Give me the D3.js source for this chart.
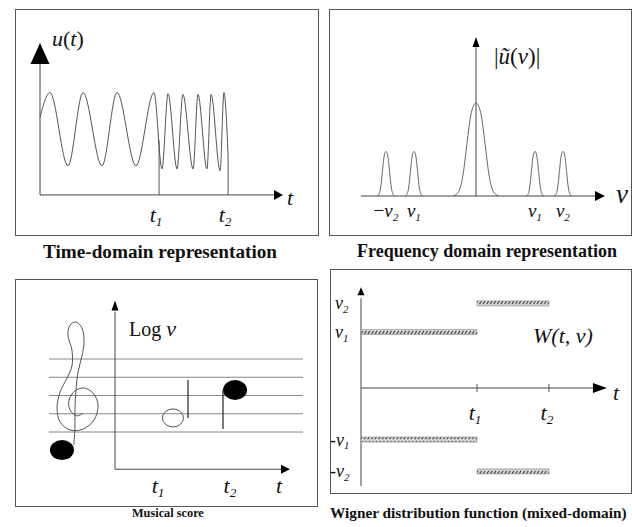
<!DOCTYPE html>
<html>
<head>
<meta charset="utf-8">
<script src="https://cdn.jsdelivr.net/npm/d3@7"></script>
<style>
  body { margin: 0; background: #fff; }
  svg { display: block; }
  text { font-family: "Liberation Serif", "Times New Roman", Times, serif; fill: #111; }
</style>
</head>
<body>
<svg id="chart" width="632" height="527"></svg>
<script>
// ---------- data ----------

// time-domain signal: extrema of u(t)
const signalT = [0, 0.41, 1.15, 1.77, 2.55, 3.17, 3.95, 4.69, 5.02, 5.27, 5.64, 5.88, 6.30, 6.50, 6.87, 7.04, 7.41, 7.57, 7.74];
const signalU = [0.33, 1, -0.97, 1, -0.97, 1, -0.97, 1, -1.05, 0.97, -1.05, 0.95, -1.05, 0.95, -1.05, 0.95, -1.1, 1, -0.68];
const timeMarks = [4.9, 7.74];
const timeMarkTop = [-0.28, -0.68];
const timeSubs = ["1", "2"];

// spectrum peaks
const peakCenters = [-0.9, -0.62, 0, 0.59, 0.87];
const peakHeights = [0.48, 0.48, 1, 0.48, 0.48];
const peakWidths = [0.09, 0.09, 0.23, 0.09, 0.09];
const peakProfile = [[-1, 0], [-0.75, 0.05], [-0.55, 0.25], [-0.4, 0.55], [-0.2, 0.9], [0, 1],
                     [0.2, 0.9], [0.4, 0.55], [0.55, 0.25], [0.75, 0.05], [1, 0]];
const freqLabelNu = [-0.9, -0.62, 0.59, 0.87];
const freqLabelPre = ["−", "", "", ""];
const freqLabelSub = ["2", "1", "1", "2"];

// musical score
const staffLines = [0, 1, 2, 3, 4];
const noteT = [3.31, 6.86];
const noteS = [0.77, 2.3];
const noteFilled = [false, true];
const stemT = [4.17, 6.17];
const stemEndS = [2.85, 0.16];
const clefT = [-1.83, -2.17, -2.57, -2.63, -2.29, -1.77, -1.26, -0.97, -1.2, -1.83, -2.57, -3.14, -3.31, -3.14,
               -2.74, -2.46, -2.46, -2.69, -2.57, -2.23, -1.89, -1.77, -1.89, -2.11, -2.23, -2.29, -2.29, -2.36];
const clefS = [1.04, 0.88, 1.21, 1.75, 2.25, 2.41, 2.14, 1.48, 0.66, 0.16, 0.11, 0.55, 1.32, 2.19,
               2.96, 3.62, 4.49, 5.32, 5.86, 6.03, 5.70, 4.93, 4.16, 3.29, 2.30, 1.21, 0.11, -0.71];
const clefDot = [-3.03, -0.99];
const scoreMarks = [2.46, 6.57];

// Wigner distribution bars
const wignerT0 = [0, 1, 0, 1];
const wignerT1 = [1, 1.62, 1, 1.62];
const wignerNu = [1, 1.51, -0.92, -1.49];
const wignerMarks = [1, 1.62];
const nuLabelPre = ["", "", "-", "-"];
const nuLabelSub = ["1", "2", "1", "2"];

// ---------- helpers ----------
const svg = d3.select("#chart");
svg.append("rect").attr("width", 632).attr("height", 527).attr("fill", "#fff");

const defs = svg.append("defs");
const hatch = defs.append("pattern")
    .attr("id", "hatch")
    .attr("patternUnits", "userSpaceOnUse")
    .attr("width", 3.6).attr("height", 5);
hatch.append("rect").attr("width", 3.6).attr("height", 5).attr("fill", "#ddd");
hatch.append("line")
    .attr("x1", 0.6).attr("y1", 4.2).attr("x2", 2.8).attr("y2", 0.8)
    .attr("stroke", "#222").attr("stroke-width", 1);

function frame(x, y, w, h) {
    svg.append("rect")
        .attr("x", x + 0.5).attr("y", y + 0.5)
        .attr("width", w).attr("height", h)
        .attr("fill", "none").attr("stroke", "#555").attr("stroke-width", 1);
}

function line(x1, y1, x2, y2, color = "#444", w = 1) {
    svg.append("line")
        .attr("x1", x1).attr("y1", y1).attr("x2", x2).attr("y2", y2)
        .attr("stroke", color).attr("stroke-width", w);
}

// arrowhead with its tip at (x, y)
function arrow(x, y, dir, len, half) {
    const pts = dir === "up"
        ? [[x, y], [x - half, y + len], [x + half, y + len]]
        : [[x, y], [x - len, y - half], [x - len, y + half]];
    svg.append("path").attr("d", "M" + pts.join("L") + "Z").attr("fill", "#000");
}

// italic symbol with an italic subscript
function symbol(x, y, pre, sym, sub, size, anchor = "middle") {
    const t = svg.append("text")
        .attr("x", x).attr("y", y)
        .attr("text-anchor", anchor)
        .attr("font-size", size);
    if (pre) t.append("tspan").text(pre);
    t.append("tspan").attr("font-style", "italic").text(sym);
    if (sub) t.append("tspan").attr("font-style", "italic")
        .attr("font-size", size * 0.6).attr("dy", size * 0.2).text(sub);
    return t;
}

function caption(x, y, str, size) {
    svg.append("text")
        .attr("x", x).attr("y", y)
        .attr("font-size", size).attr("font-weight", "bold")
        .text(str);
}

// ---------- panel 1: time domain ----------
frame(15, 9, 303, 226);
const x1 = d3.scaleLinear().domain([0, 10]).range([40, 283]);
const y1 = d3.scaleLinear().domain([-1, 1]).range([167, 92.5]);

line(x1(0), y1(-1.75), x1(0), y1(2.3));
arrow(x1(0), y1(2.33), "up", 21, 9.5);
line(x1(0), y1(-1.75), x1(9.7), y1(-1.75));
arrow(x1(10), y1(-1.75), "right", 9, 5);

svg.append("path")
    .datum(d3.zip(signalT, signalU))
    .attr("fill", "none").attr("stroke", "#555").attr("stroke-width", 1)
    .attr("d", d3.line().x(d => x1(d[0])).y(d => y1(d[1])).curve(d3.curveMonotoneX));

timeMarks.forEach((t, i) => {
    line(x1(t), y1(-1.75), x1(t), y1(timeMarkTop[i]), "#555");
    symbol(x1(t) - 3, 222, "", "t", timeSubs[i], 22);
});

const uLab = svg.append("text").attr("x", 52).attr("y", 46).attr("font-size", 22);
uLab.append("tspan").attr("font-style", "italic").text("u");
uLab.append("tspan").text("(");
uLab.append("tspan").attr("font-style", "italic").text("t");
uLab.append("tspan").text(")");
symbol(287, 205, "", "t", "", 22, "start");

caption(43, 258, "Time-domain representation", 19.2);

// ---------- panel 2: frequency domain ----------
frame(329, 9, 302, 226);
const x2 = d3.scaleLinear().domain([-1, 1]).range([376, 576]);
const y2 = d3.scaleLinear().domain([0, 1]).range([196, 103]);

line(x2(-1.15), y2(0), x2(1.19), y2(0));
arrow(x2(1.29), y2(0), "right", 10, 5);
line(x2(0), y2(0), x2(0), y2(1.6));
arrow(x2(0), y2(1.71), "up", 10, 3.5);

const peakLine = d3.line().x(d => x2(d[0])).y(d => y2(d[1])).curve(d3.curveMonotoneX);
peakCenters.forEach((c, i) => {
    svg.append("path")
        .datum(peakProfile.map(p => [c + p[0] * peakWidths[i], p[1] * peakHeights[i]]))
        .attr("fill", "none").attr("stroke", "#666").attr("stroke-width", 1)
        .attr("d", peakLine);
});

freqLabelNu.forEach((nu, i) => {
    symbol(x2(nu), 217, freqLabelPre[i], "ν", freqLabelSub[i], 19);
});
symbol(616, 203, "", "ν", "", 27, "start");

const fLab = svg.append("text").attr("x", 494).attr("y", 64).attr("font-size", 23);
fLab.append("tspan").text("|");
fLab.append("tspan").attr("font-style", "italic").text("ũ");
fLab.append("tspan").text("(");
fLab.append("tspan").attr("font-style", "italic").text("ν");
fLab.append("tspan").text(")|");

caption(357, 257, "Frequency domain representation", 18);

// ---------- panel 3: musical score ----------
frame(15, 279, 302, 227);
const x3 = d3.scaleLinear().domain([0, 10]).range([115, 290]);
const y3 = d3.scaleLinear().domain([0, 4]).range([432, 359]);

staffLines.forEach(s => line(x3(-3.77), y3(s), x3(10.74), y3(s), "#888"));

line(x3(0), y3(-2.04), x3(0), y3(6.6));
arrow(x3(0), y3(7.2), "up", 10, 3.5);
line(x3(0), y3(-2.04), x3(9.5), y3(-2.04));
arrow(x3(10), y3(-2.04), "right", 9, 4.5);

svg.append("path")
    .datum(d3.zip(clefT, clefS))
    .attr("fill", "none").attr("stroke", "#555").attr("stroke-width", 1)
    .attr("d", d3.line().x(d => x3(d[0])).y(d => y3(d[1])).curve(d3.curveCatmullRom.alpha(0.5)));
svg.append("ellipse")
    .attr("cx", x3(clefDot[0])).attr("cy", y3(clefDot[1]))
    .attr("rx", 12).attr("ry", 10).attr("fill", "#000");

noteT.forEach((t, i) => {
    svg.append("ellipse")
        .attr("cx", x3(t)).attr("cy", y3(noteS[i]))
        .attr("rx", noteFilled[i] ? 12 : 10.5).attr("ry", noteFilled[i] ? 10 : 9)
        .attr("fill", noteFilled[i] ? "#000" : "none")
        .attr("stroke", noteFilled[i] ? "none" : "#555");
    line(x3(stemT[i]), y3(noteS[i]), x3(stemT[i]), y3(stemEndS[i]), "#222", 1.2);
});

const logLab = svg.append("text").attr("x", 129).attr("y", 336).attr("font-size", 20);
logLab.append("tspan").text("Log ");
logLab.append("tspan").attr("font-style", "italic").attr("font-size", 22).text("ν");

scoreMarks.forEach((t, i) => symbol(x3(t), 493, "", "t", timeSubs[i], 22));
symbol(276, 493, "", "t", "", 22, "start");

caption(132, 517, "Musical score", 12.3);

// ---------- panel 4: Wigner distribution ----------
frame(330, 269, 301, 224);
const x4 = d3.scaleLinear().domain([0, 1]).range([361, 477]);
const y4 = d3.scaleLinear().domain([0, 1]).range([388, 332]);

line(x4(0), y4(-1.75), x4(0), y4(1.6));
arrow(x4(0), y4(1.8), "up", 8, 3.5);
line(x4(0), y4(0), x4(2.0), y4(0));
arrow(x4(2.12), y4(0), "right", 14, 5);

wignerMarks.forEach((t, i) => {
    line(x4(t), y4(0) - 4, x4(t), y4(0) + 4, "#555");
    symbol(x4(t) - 2, 420, "", "t", timeSubs[i], 22);
});

wignerNu.forEach((nu, i) => {
    svg.append("rect")
        .attr("x", x4(wignerT0[i])).attr("y", y4(nu) - 2.5)
        .attr("width", x4(wignerT1[i]) - x4(wignerT0[i])).attr("height", 5)
        .attr("fill", "url(#hatch)").attr("stroke", "#999").attr("stroke-width", 0.7);
    symbol(nuLabelPre[i] ? 330 : 335, y4(nu) + 6, nuLabelPre[i], "ν", nuLabelSub[i], 18, "start");
});

symbol(613, 400, "", "t", "", 22, "start");
svg.append("text").attr("x", 533).attr("y", 343)
    .attr("font-size", 22).attr("font-style", "italic").text("W(t, ν)");

caption(330, 518, "Wigner distribution function (mixed-domain)", 15.3);
</script>
</body>
</html>
